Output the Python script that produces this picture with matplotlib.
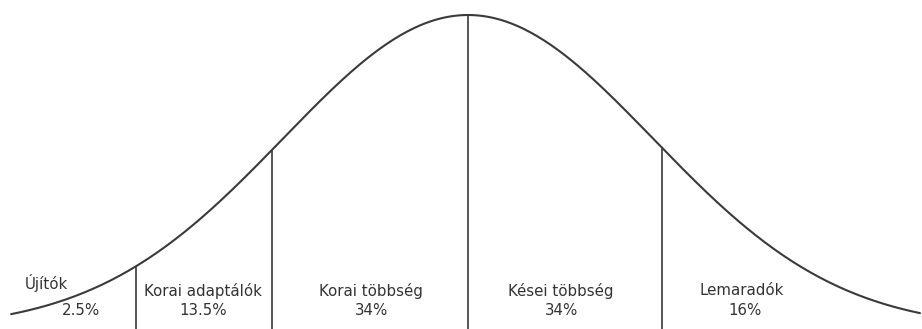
import numpy as np
import matplotlib.pyplot as plt

# adopter categories (Rogers' diffusion of innovations)
categories = ["Újítók", "Korai adaptálók", "Korai többség", "Kései többség", "Lemaradók"]
shares = ["2.5%", "13.5%", "34%", "34%", "16%"]
# category boundaries, in standard deviations from the mean
boundaries = [-1.795, -1.059, 0.0, 1.049]

# layout for the labels (x in sd units)
name_x = [-2.28, -1.432, -0.524, 0.503, 1.481]
share_x = [-2.09, -1.432, -0.524, 0.503, 1.497]

ink = "#3a3a3a"

fig = plt.figure(figsize=(9.22, 3.29), dpi=100)
ax = fig.add_axes([0, 0, 1, 1])

def bell(z):
    return np.exp(-z ** 2 / 2) / np.sqrt(2 * np.pi)

z = np.linspace(-2.47, 2.443, 400)
ax.plot(z, bell(z), color=ink, lw=1.5, solid_capstyle="round")

for b in boundaries:
    ax.vlines(b, 0, bell(b), color=ink, lw=1.2)

for i, name in enumerate(categories):
    ny = 0.0584 if i == 0 else 0.0483
    ax.text(name_x[i], ny, name, ha="center", va="center", fontsize=10.8, color="#333333")
    ax.text(share_x[i], 0.0229, shares[i], ha="center", va="center", fontsize=10.8, color="#333333")

ax.set_xlim(-2.530, 2.454)
ax.set_ylim(0, 0.418)
ax.axis("off")

fig.savefig("out.png", dpi=100)
